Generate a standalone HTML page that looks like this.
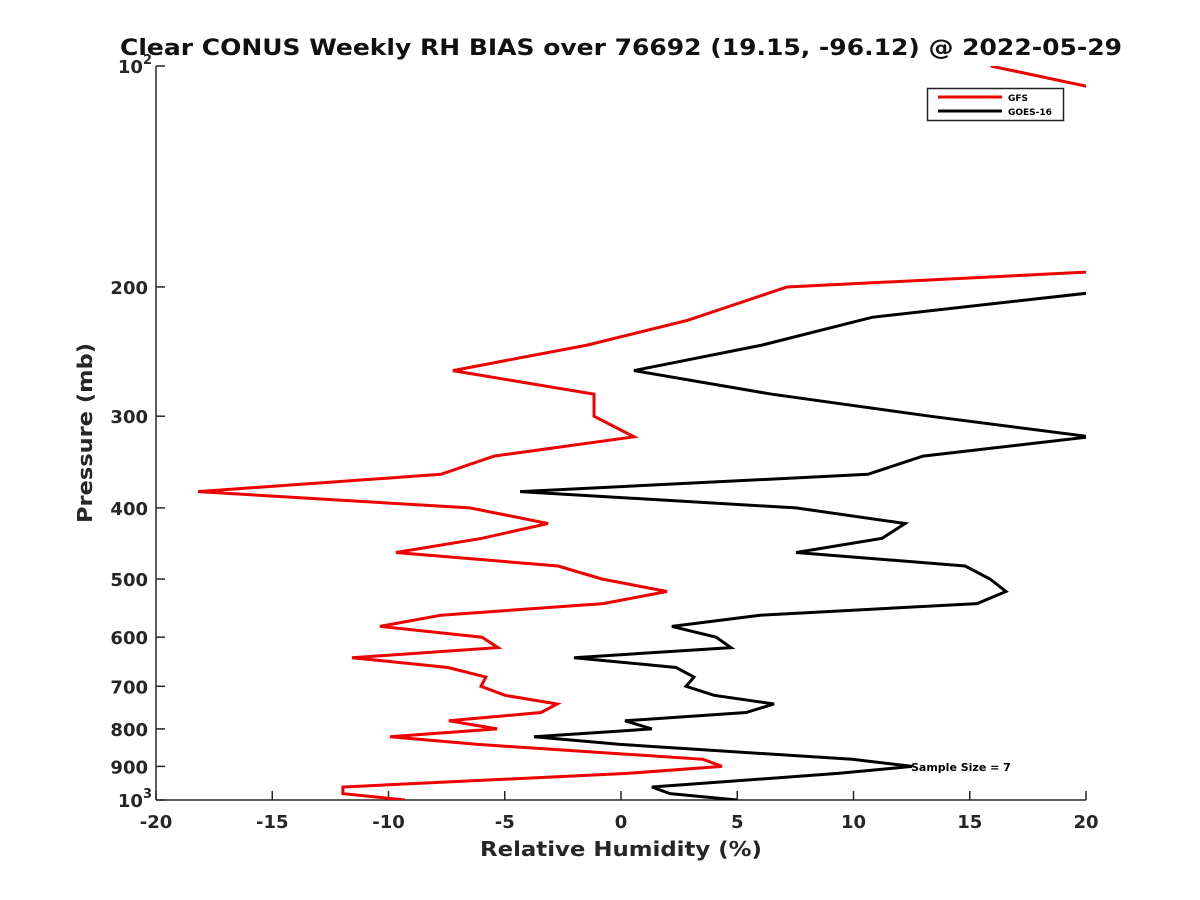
<!DOCTYPE html>
<html><head><meta charset="utf-8"><style>
html,body{margin:0;padding:0;background:#fff;}
svg{display:block;font-family:"DejaVu Sans","Liberation Sans",sans-serif;}
</style></head><body>
<svg id="chart" width="1200" height="900" viewBox="0 0 1200 900" xmlns="http://www.w3.org/2000/svg">
<rect width="1200" height="900" fill="#fff"/>
<defs><clipPath id="plotclip"><rect x="156" y="66" width="930" height="734"/></clipPath></defs>
<text x="120" y="55" textLength="1002" lengthAdjust="spacingAndGlyphs" font-size="22" font-weight="bold" fill="#111">Clear CONUS Weekly RH BIAS over 76692 (19.15, -96.12) @ 2022-05-29</text>
<g id="axes"></g>
<g id="series" clip-path="url(#plotclip)"></g>
<text x="480" y="856" textLength="282" lengthAdjust="spacingAndGlyphs" font-size="20" font-weight="bold" fill="#262626">Relative Humidity (%)</text>
<text transform="translate(92,523) rotate(-90)" textLength="180" lengthAdjust="spacingAndGlyphs" font-size="20" font-weight="bold" fill="#262626">Pressure (mb)</text>
<text x="911" y="771" font-size="11" font-weight="bold" fill="#000">Sample Size = 7</text>
<g>
<rect x="927.5" y="88.5" width="136" height="32" fill="#fff" stroke="#222" stroke-width="1.5"/>
<line x1="938" y1="97" x2="1002" y2="97" stroke="#e00" stroke-width="3"/>
<text x="1008" y="101" font-size="9" font-weight="bold">GFS</text>
<line x1="938" y1="111" x2="1002" y2="111" stroke="#000" stroke-width="3"/>
<text x="1008" y="115" font-size="9" font-weight="bold">GOES-16</text>
</g>
</svg>
<script>
const xTicks = [-20,-15,-10,-5,0,5,10,15,20];
const yTickLabels = [200,300,400,500,600,700,800,900];
const gfsPressure = [100,106.5,120,180,200,222,240,260,280,300,320,340,360,380,400,420,440,460,480,500,520,540,560,580,600,620,640,660,680,700,720,740,760,780,800,820,840,880,900,920,960,980,1000];
const gfsBias = [15.9,20,30,36.3,7.14,2.88,-1.46,-7.23,-1.16,-1.16,0.56,-5.46,-7.74,-18.19,-6.5,-3.14,-5.98,-9.68,-2.71,-0.82,1.98,-0.77,-7.74,-10.37,-5.98,-5.29,-11.57,-7.44,-5.81,-6.02,-4.99,-2.75,-3.44,-7.4,-5.33,-9.94,-6.15,3.53,4.34,0.26,-11.96,-11.96,-9.29];
const goesPressure = [180,220,240,260,280,300,320,340,360,380,400,420,440,460,480,500,520,540,560,580,600,620,640,660,680,700,720,740,760,780,800,820,840,880,900,920,960,980,1000];
const goesBias = [35.3,10.8,6.06,0.56,6.49,13.29,20.17,12.99,10.62,-4.34,7.53,12.22,11.23,7.53,14.8,15.87,16.56,15.31,5.98,2.19,4.09,4.73,-2.02,2.37,3.14,2.8,4.0,6.58,5.38,0.17,1.33,-3.74,-0.04,9.94,12.52,9.33,1.33,2.11,4.99];

const NS='http://www.w3.org/2000/svg';
const X0=156,X1=1086,Y0=66,Y1=800;
function xs(v){return X0+(v+20)/40*(X1-X0);}
function ys(p){return Y0+(Math.log10(p)-2)*(Y1-Y0);}
function mk(tag,attrs,parent){const e=document.createElementNS(NS,tag);for(const k in attrs)e.setAttribute(k,attrs[k]);parent.appendChild(e);return e;}
const axes=document.getElementById('axes');
const ser=document.getElementById('series');
const yAxis=mk('line',{x1:X0,y1:Y0,x2:X0,y2:Y1,stroke:'#262626','stroke-width':1.5},axes);


const xAxis=mk('line',{x1:X0,y1:Y1,x2:X1,y2:Y1,stroke:'#262626','stroke-width':1.5},axes);


xTicks.forEach(v=>{
  const x=xs(v);
  const t=mk('line',{x1:x,y1:Y1,x2:x,y2:Y1-9,stroke:'#262626','stroke-width':1.5},axes);
  
  
  const l=mk('text',{x:x,y:Y1+28,'text-anchor':'middle','font-size':18,'font-weight':'bold',fill:'#262626'},axes);
  l.textContent=String(v);
  
  
});
[100].concat(yTickLabels,[1000]).forEach(p=>{
  const y=ys(p);
  const t=mk('line',{x1:X0,y1:y,x2:X0+9,y2:y,stroke:'#262626','stroke-width':1.5},axes);
  
  
  const l=mk('text',{x:X0-8,y:y+7,'text-anchor':'end','font-size':18,'font-weight':'bold',fill:'#262626'},axes);
  if(p===100||p===1000){
    l.textContent='10';
    const s=mk('tspan',{dy:-9,'font-size':13},l);
    s.textContent=p===100?'2':'3';
    l.setAttribute('x',X0-4);
  } else l.textContent=String(p);
  
  
});
function line(ps,vs,color,name){
  const pts=ps.map((p,i)=>xs(vs[i]).toFixed(1)+','+ys(p).toFixed(1)).join(' ');
  const pl=mk('polyline',{points:pts,fill:'none',stroke:color,'stroke-width':3,'stroke-linejoin':'miter'},ser);
  
  
}
line(gfsPressure,gfsBias,'#e00','gfs-line');
line(goesPressure,goesBias,'#000','goes16-line');
</script>
</body></html>
